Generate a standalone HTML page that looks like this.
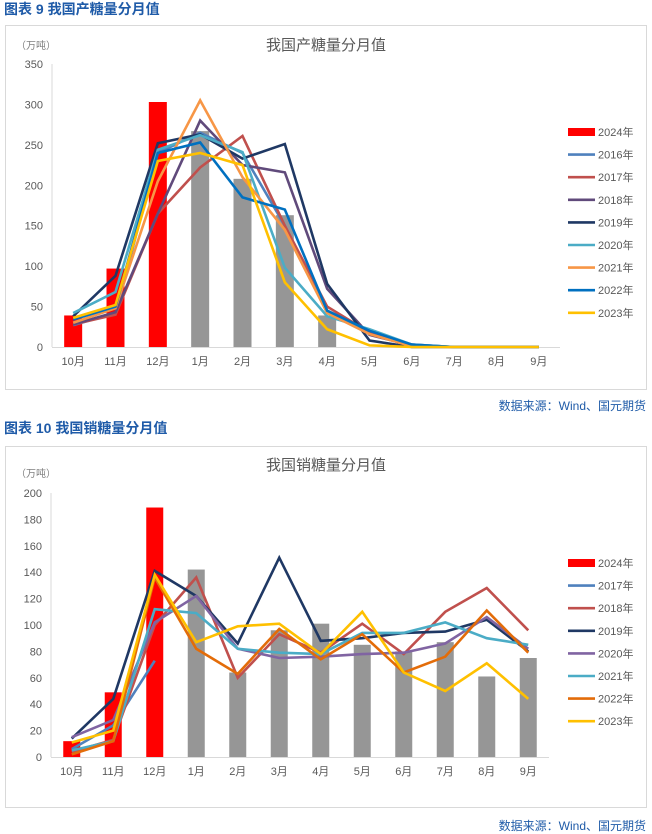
<!DOCTYPE html>
<html><head><meta charset="utf-8">
<style>
body{margin:0;width:652px;height:834px;background:#fff;overflow:hidden;font-family:"Liberation Sans","Noto Sans CJK SC",sans-serif;}
svg{position:absolute;left:0;top:0;}
</style></head>
<body>
<svg id="page" width="652" height="834">
<text x="4" y="14" font-size="14" font-weight="bold" fill="#1f5ba8">图表 9  我国产糖量分月值</text>
<rect x="5.5" y="25.5" width="641" height="364" fill="#fff" stroke="#d9d9d9"/>
<text x="326" y="50" font-size="15" fill="#595959" text-anchor="middle">我国产糖量分月值</text>
<text x="16" y="49" font-size="10" fill="#7f7f7f">（万吨）</text>
<text x="646" y="410" font-size="12" fill="#1f5ba8" text-anchor="end">数据来源：Wind、国元期货</text>
<text x="4" y="433" font-size="14" font-weight="bold" fill="#1f5ba8">图表 10  我国销糖量分月值</text>
<rect x="5.5" y="446.5" width="641" height="361" fill="#fff" stroke="#d9d9d9"/>
<text x="326" y="470" font-size="15" fill="#595959" text-anchor="middle">我国销糖量分月值</text>
<text x="16" y="477" font-size="10" fill="#7f7f7f">（万吨）</text>
<text x="646" y="830" font-size="12" fill="#1f5ba8" text-anchor="end">数据来源：Wind、国元期货</text>
<g id="c1"></g>
<g id="c2"></g>
</svg>
<script>
const months = ["10月","11月","12月","1月","2月","3月","4月","5月","6月","7月","8月","9月"];
// Chart 1: production
const prodTicks = [0,50,100,150,200,250,300,350];
const prod2024 = [39,97,303];
const prodPrev = [null,null,null,267,208,163,39,0,0,0,0,0];
const prodYears = ["2016年","2017年","2018年","2019年","2020年","2021年","2022年","2023年"];
const prod2016 = [27,42,240,265,240,150,45,20,3,0,0,0];
const prod2017 = [28,40,165,222,261,150,50,18,2,0,0,0];
const prod2018 = [28,43,165,280,225,216,72,15,2,0,0,0];
const prod2019 = [38,88,252,263,233,251,78,8,0,0,0,0];
const prod2020 = [42,68,244,262,241,98,38,22,3,0,0,0];
const prod2021 = [30,48,205,305,210,145,42,16,1,0,0,0];
const prod2022 = [34,50,240,253,185,170,45,20,3,0,0,0];
const prod2023 = [36,52,230,240,225,80,22,2,0,0,0,0];
// Chart 2: sales
const salesTicks = [0,20,40,60,80,100,120,140,160,180,200];
const sales2024 = [12,49,189];
const salesPrev = [null,null,null,142,64,96,101,85,80,87,61,75];
const salesYears = ["2017年","2018年","2019年","2020年","2021年","2022年","2023年"];
const sales2017 = [6,24,73];
const sales2018 = [4,13,100,136,60,93,79,101,78,110,128,96];
const sales2019 = [14,44,141,122,86,151,88,90,94,95,104,80];
const sales2020 = [15,28,102,122,82,75,76,78,79,86,106,82];
const sales2021 = [5,12,112,109,82,79,78,94,94,102,90,85];
const sales2022 = [2,12,136,82,63,97,74,93,64,76,111,79];
const sales2023 = [11,20,138,87,99,101,78,110,64,50,71,44];

const NS="http://www.w3.org/2000/svg";
function mk(parent,tag,attrs,text){const e=document.createElementNS(NS,tag);for(const k in attrs)e.setAttribute(k,attrs[k]);if(text!=null)e.textContent=text;parent.appendChild(e);return e;}

function draw(g,cfg){
  const {x0,x1,yTop,yBot,max,ticks,bars,prev,series,colors,names,legendY,legendStep,barW,prefix}=cfg;
  const step=(x1-x0)/12;
  const X=i=>x0+step*(i+0.5);
  const Y=v=>yBot-(v/max)*(yBot-yTop);
  ticks.forEach(t=>{
    const tl=mk(g,'text',{x:x0-9,y:Y(t)+4,'font-size':11,fill:'#595959','text-anchor':'end'},String(t));
    
    
  });
  const ya=mk(g,'line',{x1:x0,y1:yTop,x2:x0,y2:yBot,stroke:'#d9d9d9'});
  
  
  const xa=mk(g,'line',{x1:x0,y1:yBot+0.5,x2:x1,y2:yBot+0.5,stroke:'#d9d9d9'});
  
  
  months.forEach((m,i)=>{
    const tl=mk(g,'text',{x:X(i),y:yBot+18,'font-size':11,fill:'#595959','text-anchor':'middle'},m);
    
    
  });
  prev.forEach((v,i)=>{ if(v==null||v<=0)return;
    const r=mk(g,'rect',{x:X(i)-barW/2,y:Y(v),width:barW,height:yBot-Y(v),fill:'#969696'});
    
    
  });
  bars.forEach((v,i)=>{
    const r=mk(g,'rect',{x:X(i)-barW/2,y:Y(v),width:barW,height:yBot-Y(v),fill:'#ff0000'});
    
    
  });
  series.forEach((s,k)=>{
    const pts=s.map((v,i)=>X(i)+','+Y(v)).join(' ');
    const p=mk(g,'polyline',{points:pts,fill:'none',stroke:colors[k],'stroke-width':2.6,'stroke-linejoin':'miter'});
    
    
  });
  // legend
  const lx=568;
  const l0=mk(g,'rect',{x:lx,y:legendY-4,width:27,height:8,fill:'#ff0000'});
  
  
  const t0=mk(g,'text',{x:lx+30,y:legendY+4,'font-size':11,fill:'#595959'},'2024年');
  
  
  names.forEach((n,k)=>{
    const y=legendY+legendStep*(k+1);
    const ln=mk(g,'line',{x1:lx,y1:y,x2:lx+27,y2:y,stroke:colors[k],'stroke-width':2.6});
    
    
    const tt=mk(g,'text',{x:lx+30,y:y+4,'font-size':11,fill:'#595959'},n);
    
    
  });
}
draw(document.getElementById('c1'),{x0:52,x1:560,yTop:64,yBot:347,max:350,ticks:prodTicks,bars:prod2024,prev:prodPrev,
  series:[prod2016,prod2017,prod2018,prod2019,prod2020,prod2021,prod2022,prod2023],
  colors:['#4f81bd','#c0504d','#604a7b','#1f3864','#4bacc6','#f79646','#0070c0','#ffc000'],
  names:prodYears,legendY:132,legendStep:22.6,barW:18,prefix:'prod'});
draw(document.getElementById('c2'),{x0:51,x1:549,yTop:493,yBot:757,max:200,ticks:salesTicks,bars:sales2024,prev:salesPrev,
  series:[sales2017,sales2018,sales2019,sales2020,sales2021,sales2022,sales2023],
  colors:['#4f81bd','#c0504d','#1f3864','#8064a2','#4bacc6','#e36c09','#ffc000'],
  names:salesYears,legendY:563,legendStep:22.6,barW:17,prefix:'sales'});
</script>
</body></html>
